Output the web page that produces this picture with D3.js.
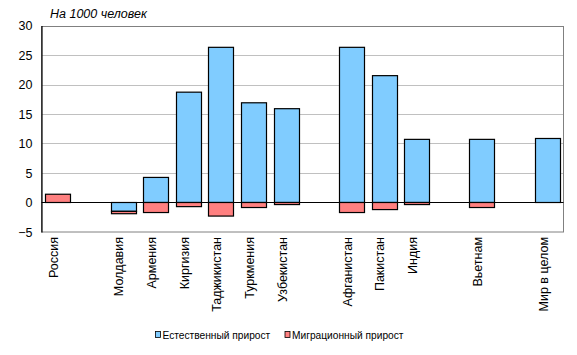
<!DOCTYPE html>
<html><head><meta charset="utf-8">
<script src="https://cdn.jsdelivr.net/npm/d3@7"></script>
<style>body{margin:0;background:#fff}svg{display:block;font-family:Arial,"Liberation Sans",sans-serif}</style>
</head><body><svg id="c" width="577" height="355"></svg>
<script>
// 16 slots on the category axis; empty strings are blank slots
const categories = ["Россия","","Молдавия","Армения","Киргизия","Таджикистан","Туркмения","Узбекистан","","Афганистан","Пакистан","Индия","","Вьетнам","","Мир в целом"];
const naturalGrowth = [0, 0, -1.5, 4.25, 18.7, 26.3, 16.9, 15.9, 0, 26.3, 21.5, 10.7, 0, 10.7, 0, 10.85];
const migrationGrowth = [1.4, 0, -0.4, -1.7, -0.7, -2.3, -0.85, -0.35, 0, -1.7, -1.2, -0.35, 0, -0.85, 0, 0];
const seriesNames = ["Естественный прирост","Миграционный прирост"];
const seriesColors = ["#80CCFF","#FF8080"];
const yTicks = [-5,0,5,10,15,20,25,30];

const svg = d3.select("#c");
const m = {l:41.5, r:563.5, t:25.5, b:232};
const slots = d3.range(categories.length);
const x = d3.scaleBand().domain(slots).range([m.l, m.r]).paddingInner(0.235).paddingOuter(0.117);
const y = d3.scaleLinear().domain([-5,30]).range([m.b, m.t]);

// gridlines
svg.append("g").selectAll("line").data(yTicks.filter(t=>t>0)).join("line")
  .attr("x1",m.l).attr("x2",m.r).attr("y1",d=>Math.round(y(d))+0.5).attr("y2",d=>Math.round(y(d))+0.5)
  .attr("stroke","#c0c0c0").attr("stroke-width",1);
// plot border
svg.append("rect").attr("x",m.l).attr("y",Math.round(y(30))+0.5).attr("width",m.r-m.l).attr("height",m.b-Math.round(y(30))-0.5)
  .attr("fill","none").attr("stroke","#808080");

const rows = slots.map(i=>({i, n:naturalGrowth[i], m:migrationGrowth[i]}));
const stack = d3.stack().keys(["n","m"]).offset(d3.stackOffsetDiverging);
const stacked = stack(rows);
svg.append("g").selectAll("g").data(stacked).join("g").attr("fill",(d,k)=>seriesColors[k])
  .selectAll("rect").data(d=>d.filter(p=>p[1]!==p[0])).join("rect")
  .attr("x",d=>Math.round(x(d.data.i))+0.5).attr("width",Math.round(x.bandwidth()))
  .attr("y",d=>y(Math.max(d[0],d[1]))).attr("height",d=>Math.abs(y(d[0])-y(d[1])))
  .attr("stroke","#000").attr("stroke-width",1.2);

// zero line
svg.append("line").attr("x1",m.l).attr("x2",m.r).attr("y1",y(0)).attr("y2",y(0)).attr("stroke","#000").attr("stroke-width",1.2);
// y axis
const yAxis = d3.axisLeft(y).tickValues(yTicks).tickSize(0).tickPadding(9);
const ga = svg.append("g").attr("transform",`translate(${m.l},0)`).call(yAxis);
ga.select(".domain").attr("stroke","#000").attr("stroke-width",1.2);
ga.selectAll("text").attr("font-size",12.5).attr("fill","#000").attr("font-family","Arial,'Liberation Sans',sans-serif");

// x axis labels
const xAxis = d3.axisBottom(x).tickFormat(i=>categories[i]).tickSize(0).tickPadding(0);
const gx = svg.append("g").attr("transform",`translate(0,${m.b})`).call(xAxis);
gx.select(".domain").remove();
gx.selectAll("text").attr("font-size",12.5).attr("fill","#000").attr("font-family","Arial,'Liberation Sans',sans-serif")
  .attr("transform","rotate(-90)").attr("text-anchor","end").attr("x",-5).attr("y",-4).attr("dy","0.35em");

// title
svg.append("text").attr("x",50).attr("y",18).attr("font-size",12.5).attr("font-style","italic").text("На 1000 человек");

// legend
const lg = svg.append("g").attr("font-size",10.2);
const lx = [155, 284.5];
seriesNames.forEach((s,k)=>{
  lg.append("rect").attr("x",lx[k]+0.5).attr("y",331.5).attr("width",5).attr("height",6).attr("fill",seriesColors[k]).attr("stroke","#000").attr("stroke-width",0.8);
  lg.append("text").attr("x",lx[k]+7.5).attr("y",338.5).text(s);
});
</script></body></html>
